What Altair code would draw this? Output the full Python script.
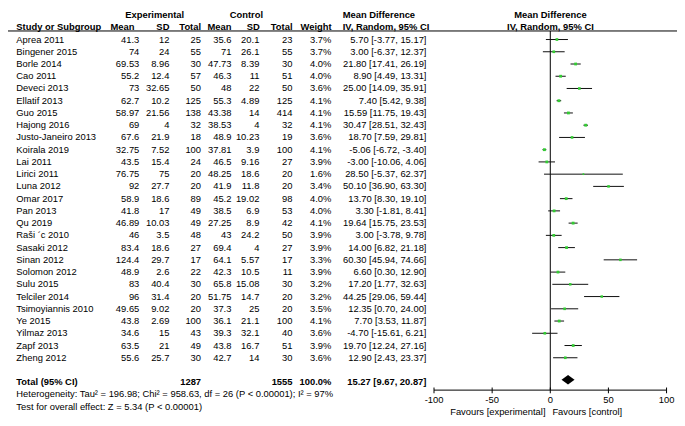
import altair as alt
import pandas as pd

# ---------------- data ----------------
studies = ["Aprea 2011", "Bingener 2015", "Borle 2014", "Cao 2011", "Deveci 2013", "Ellatif 2013",
           "Guo 2015", "Hajong 2016", "Justo-Janeiro 2013", "Koirala 2019", "Lai 2011", "Lirici 2011",
           "Luna 2012", "Omar 2017", "Pan 2013", "Qu 2019", "Raši ´c 2010", "Sasaki 2012", "Sinan 2012",
           "Solomon 2012", "Sulu 2015", "Telciler 2014", "Tsimoyiannis 2010", "Ye 2015", "Yilmaz 2013",
           "Zapf 2013", "Zheng 2012"]
exp_mean = [41.3, 74, 69.53, 55.2, 73, 62.7, 58.97, 69, 67.6, 32.75, 43.5, 76.75, 92, 58.9, 41.8, 46.89,
            46, 83.4, 124.4, 48.9, 83, 96, 49.65, 43.8, 34.6, 63.5, 55.6]
exp_sd = [12, 24, 8.96, 12.4, 32.65, 10.2, 21.56, 4, 21.9, 7.52, 15.4, 75, 27.7, 18.6, 17, 10.03, 3.5,
          18.6, 29.7, 2.6, 40.4, 31.4, 9.02, 2.69, 15, 21, 25.7]
exp_total = [25, 55, 30, 57, 50, 125, 138, 32, 18, 100, 24, 20, 20, 89, 49, 49, 48, 27, 17, 22, 30, 20,
             20, 100, 43, 49, 30]
ctl_mean = [35.6, 71, 47.73, 46.3, 48, 55.3, 43.38, 38.53, 48.9, 37.81, 46.5, 48.25, 41.9, 45.2, 38.5,
            27.25, 43, 69.4, 64.1, 42.3, 65.8, 51.75, 37.3, 36.1, 39.3, 43.8, 42.7]
ctl_sd = [20.1, 26.1, 8.39, 11, 22, 4.89, 14, 4, 10.23, 3.9, 9.16, 18.6, 11.8, 19.02, 6.9, 8.9, 24.2, 4,
          5.57, 10.5, 15.08, 14.7, 25, 21.1, 32.1, 16.7, 14]
ctl_total = [23, 55, 30, 51, 50, 125, 414, 32, 19, 100, 27, 20, 20, 98, 53, 42, 50, 27, 17, 11, 30, 20,
             20, 100, 40, 51, 30]
weight = [3.7, 3.7, 4.0, 4.0, 3.6, 4.1, 4.1, 4.1, 3.6, 4.1, 3.9, 1.6, 3.4, 4.0, 4.0, 4.1, 3.9, 3.9, 3.3,
          3.9, 3.2, 3.2, 3.5, 4.1, 3.6, 3.9, 3.6]
md = [5.70, 3.00, 21.80, 8.90, 25.00, 7.40, 15.59, 30.47, 18.70, -5.06, -3.00, 28.50, 50.10, 13.70, 3.30,
      19.64, 3.00, 14.00, 60.30, 6.60, 17.20, 44.25, 12.35, 7.70, -4.70, 19.70, 12.90]
ci_lo = [-3.77, -6.37, 17.41, 4.49, 14.09, 5.42, 11.75, 28.51, 7.59, -6.72, -10.06, -5.37, 36.90, 8.30,
         -1.81, 15.75, -3.78, 6.82, 45.94, 0.30, 1.77, 29.06, 0.70, 3.53, -15.61, 12.24, 2.43]
ci_hi = [15.17, 12.37, 26.19, 13.31, 35.91, 9.38, 19.43, 32.43, 29.81, -3.40, 4.06, 62.37, 63.30, 19.10,
         8.41, 23.53, 9.78, 21.18, 74.66, 12.90, 32.63, 59.44, 24.00, 11.87, 6.21, 27.16, 23.37]
total_exp = 1287
total_ctl = 1555
total_weight = 100.0
total_md = 15.27
total_lo = 9.67
total_hi = 20.87
axis_ticks = [-100, -50, 0, 50, 100]
het_text = "Heterogeneity: Tau\u00b2 = 196.98; Chi\u00b2 = 958.63, df = 26 (P < 0.00001); I\u00b2 = 97%"
test_text = "Test for overall effect: Z = 5.34 (P < 0.00001)"

# ---------------- layout helpers ----------------
FONT = "Liberation Sans"
FS = 9.4
SX = 0.98
ROW0, ROWH = 31.5, 12.75


def px(ref_x):
    return (ref_x - 2) * SX


def ry(ref_y):
    return 6.8 + (ref_y - 5.75) * 0.96


def row_ref(r):
    return ROW0 + r * ROWH


yscale = alt.Scale(domain=[-3, 31], range=[ry(row_ref(-3)), ry(row_ref(31))])
xscale = alt.Scale(domain=[-100, 100], range=[px(436.7), px(674)])


def fmt(v):
    return f"{v:g}"


n = len(studies)
df = pd.DataFrame({
    "row": list(range(n)),
    "study": studies,
    "em": [fmt(v) for v in exp_mean],
    "esd": [fmt(v) for v in exp_sd],
    "en": [str(v) for v in exp_total],
    "cm": [fmt(v) for v in ctl_mean],
    "csd": [fmt(v) for v in ctl_sd],
    "cn": [str(v) for v in ctl_total],
    "w": weight,
    "wl": [f"{v:.1f}%" for v in weight],
    "md": md,
    "lo": ci_lo,
    "hi": ci_hi,
    "ci": [f"{m:.2f} [{a:.2f}, {b:.2f}]" for m, a, b in zip(md, ci_lo, ci_hi)],
})

TOTAL_ROW = 28
tot = pd.DataFrame({
    "row": [TOTAL_ROW],
    "lab": ["Total (95% CI)"],
    "en": [str(total_exp)],
    "cn": [str(total_ctl)],
    "wl": [f"{total_weight:.1f}%"],
    "ci": [f"{total_md:.2f} [{total_lo:.2f}, {total_hi:.2f}]"],
})


def col_text(data, field, xref, align="right", bold=False):
    return alt.Chart(data).mark_text(
        align=align, baseline="middle", font=FONT, fontSize=FS,
        fontWeight="bold" if bold else "normal", color="black"
    ).encode(
        x=alt.value(px(xref)),
        y=alt.Y("row:Q", scale=yscale, axis=None),
        text=f"{field}:N",
    )


def label(text, xref, yref, align="left", bold=False):
    return alt.Chart(pd.DataFrame({"t": [text]})).mark_text(
        align=align, baseline="middle", font=FONT, fontSize=FS,
        fontWeight="bold" if bold else "normal", color="black"
    ).encode(x=alt.value(px(xref)), y=alt.value(ry(yref)), text="t:N")


layers = []

# headers
hdr1 = row_ref(-2)
hdr2 = row_ref(-1)
layers += [
    label("Experimental", 151.7, hdr1, "center", True),
    label("Control", 245.3, hdr1, "center", True),
    label("Mean Difference", 343.5, hdr1, "left", True),
    label("Mean Difference", 555.5, hdr1, "center", True),
    label("Study or Subgroup", 10.5, hdr2, "left", True),
    label("Mean", 131, hdr2, "right", True),
    label("SD", 166.7, hdr2, "right", True),
    label("Total", 199, hdr2, "right", True),
    label("Mean", 230, hdr2, "right", True),
    label("SD", 259, hdr2, "right", True),
    label("Total", 292.3, hdr2, "right", True),
    label("Weight", 332.3, hdr2, "right", True),
    label("IV, Random, 95% CI", 343.5, hdr2, "left", True),
    label("IV, Random, 95% CI", 555.5, hdr2, "center", True),
]

# header underline
line_y = 22.6
layers.append(
    alt.Chart(pd.DataFrame({"a": [0]})).mark_rule(color="black", strokeWidth=1).encode(
        x=alt.value(px(1.7)), x2=alt.value(px(685)), y=alt.value(ry(line_y)))
)

# study table columns
layers += [
    col_text(df, "study", 10.5, "left"),
    col_text(df, "em", 136),
    col_text(df, "esd", 166.7),
    col_text(df, "en", 199),
    col_text(df, "cm", 230),
    col_text(df, "csd", 258.5),
    col_text(df, "cn", 292.3),
    col_text(df, "wl", 332),
    col_text(df, "ci", 429),
]

# total row
layers += [
    col_text(tot, "lab", 10.5, "left", True),
    col_text(tot, "en", 199, "right", True),
    col_text(tot, "cn", 292.3, "right", True),
    col_text(tot, "wl", 332, "right", True),
    col_text(tot, "ci", 429, "right", True),
]

# heterogeneity + test
layers += [
    label(het_text, 10.5, row_ref(29), "left"),
    label(test_text, 10.5, row_ref(30), "left"),
]

# zero line
axis_y = 396.7
layers.append(
    alt.Chart(pd.DataFrame({"a": [0]})).mark_rule(color="black", strokeWidth=1).encode(
        x=alt.X(datum=0, scale=xscale, axis=None),
        y=alt.value(ry(line_y)), y2=alt.value(ry(axis_y)))
)

# CI lines
layers.append(
    alt.Chart(df).mark_rule(color="#111111", strokeWidth=1).encode(
        x=alt.X("lo:Q", scale=xscale, axis=None), x2="hi:Q",
        y=alt.Y("row:Q", scale=yscale, axis=None))
)
# squares
layers.append(
    alt.Chart(df).mark_square(color="#33cc33", opacity=1).encode(
        x=alt.X("md:Q", scale=xscale, axis=None),
        y=alt.Y("row:Q", scale=yscale, axis=None),
        size=alt.Size("w:Q", scale=alt.Scale(domain=[0, 4.1], range=[0, 8]), legend=None))
)

# diamond
dh = 5.0 / ROWH
dc = TOTAL_ROW - 0.2
dia = pd.DataFrame({
    "x": [total_lo, total_md, total_hi],
    "y1": [dc, dc - dh, dc],
    "y2": [dc, dc + dh, dc],
})
layers.append(
    alt.Chart(dia).mark_area(color="black", orient="vertical", opacity=1).encode(
        x=alt.X("x:Q", scale=xscale, axis=None),
        y=alt.Y("y1:Q", scale=yscale, axis=None), y2="y2:Q")
)

# axis
tk = pd.DataFrame({"t": axis_ticks, "lab": [str(t) for t in axis_ticks]})
layers.append(
    alt.Chart(pd.DataFrame({"a": [0]})).mark_rule(color="black", strokeWidth=1).encode(
        x=alt.X(datum=-100, scale=xscale, axis=None), x2=alt.X2(datum=100),
        y=alt.value(ry(axis_y)))
)
layers.append(
    alt.Chart(tk).mark_rule(color="black", strokeWidth=1).encode(
        x=alt.X("t:Q", scale=xscale, axis=None),
        y=alt.value(ry(394.0)), y2=alt.value(ry(400.0)))
)
layers.append(
    alt.Chart(tk).mark_text(font=FONT, fontSize=FS, baseline="middle", align="center", color="black").encode(
        x=alt.X("t:Q", scale=xscale, axis=None), y=alt.value(ry(407.5)), text="lab:N")
)
layers += [
    label("Favours [experimental]", 550.5, 419.5, "right"),
    label("Favours [control]", 557.5, 419.5, "left"),
]

chart = alt.layer(*layers).properties(
    width=669, height=410, autosize=alt.AutoSizeParams(type="none"), padding=0,
    background="white"
).configure_view(stroke=None)

chart.save("out.html", embed_options={"renderer": "svg", "actions": False})
